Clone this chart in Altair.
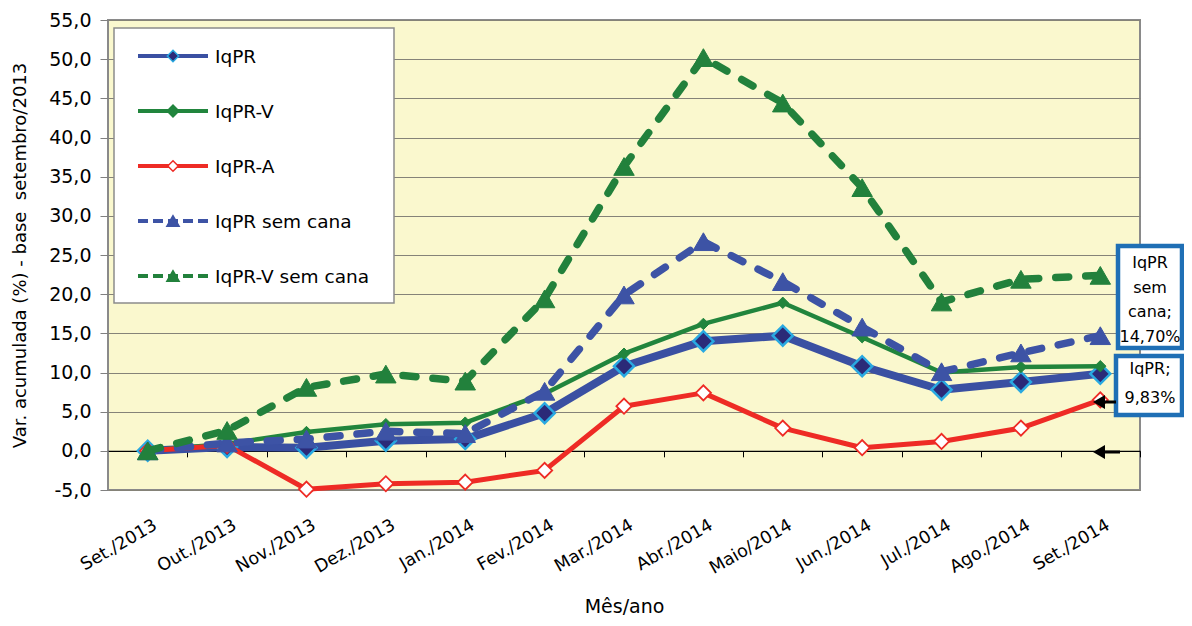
import altair as alt
import pandas as pd

# ---------------- data ----------------
months = ["Set./2013", "Out./2013", "Nov./2013", "Dez./2013", "Jan./2014",
          "Fev./2014", "Mar./2014", "Abr./2014", "Maio/2014", "Jun./2014",
          "Jul./2014", "Ago./2014", "Set./2014"]

iqpr = [0.0, 0.5, 0.4, 1.3, 1.5, 4.8, 10.8, 14.0, 14.7, 10.8, 7.8, 8.8, 9.83]
iqpr_v = [0.0, 0.9, 2.4, 3.4, 3.6, 7.3, 12.4, 16.2, 18.9, 14.5, 10.0, 10.7, 10.8]
iqpr_a = [0.0, 0.7, -4.9, -4.2, -4.0, -2.5, 5.7, 7.4, 2.9, 0.4, 1.2, 2.9, 6.5]
iqpr_sc = [0.0, 1.0, 1.5, 2.5, 2.2, 7.6, 19.9, 26.7, 21.6, 15.8, 10.1, 12.5, 14.70]
iqpr_v_sc = [0.0, 2.6, 8.1, 9.8, 8.9, 19.4, 36.3, 50.2, 44.4, 33.6, 19.0, 21.9, 22.4]

series_names = ["IqPR", "IqPR-V", "IqPR-A", "IqPR sem cana", "IqPR-V sem cana"]
series_values = [iqpr, iqpr_v, iqpr_a, iqpr_sc, iqpr_v_sc]

y_ticks = [-5, 0, 5, 10, 15, 20, 25, 30, 35, 40, 45, 50, 55]

annot_sc = ["IqPR", "sem", "cana;", "14,70%"]
annot_iqpr = ["IqPR;", "9,83%"]

# ---------------- layout / styles ----------------
FONT = "DejaVu Sans"
W, H = 1032, 470
YMIN, YMAX = -5, 55
step = W / len(months)
zero_px = H * YMAX / (YMAX - YMIN)

styles = {
    "IqPR": dict(color="#3A50A2", width=8, dash=None, shape="diamond", size=400,
                 fill="#2B2A78", stroke="#29A9E1", sw=2.5,
                 lsize=130, lfill="#2B2A78", lstroke="#29A9E1"),
    "IqPR-V": dict(color="#21853D", width=4.5, dash=None, shape="diamond", size=130,
                   fill="#21853D", stroke="#21853D", sw=1,
                   lsize=140, lfill="#21853D", lstroke="#21853D"),
    "IqPR-A": dict(color="#EE2B25", width=5, dash=None, shape="diamond", size=230,
                   fill="#FFFFFF", stroke="#EE2B25", sw=1.8,
                   lsize=110, lfill="#FFFFFF", lstroke="#EE2B25"),
    "IqPR sem cana": dict(color="#3D53A5", width=7.5, dash=[13, 17], shape="triangle-up",
                          size=420, fill="#3D53A5", stroke="#3D53A5", sw=1,
                          lsize=150, lfill="#3D53A5", lstroke="#3D53A5"),
    "IqPR-V sem cana": dict(color="#22813C", width=7.5, dash=[13, 17], shape="triangle-up",
                            size=420, fill="#22813C", stroke="#22813C", sw=1,
                            lsize=150, lfill="#22813C", lstroke="#22813C"),
}

xscale = alt.Scale(type="point", padding=0.5)
yscale = alt.Scale(domain=[YMIN, YMAX], nice=False, zero=False)

x_axis = alt.Axis(
    title="Mês/ano", orient="bottom", offset=zero_px - H,
    domain=True, domainColor="black", domainWidth=1.3,
    ticks=True, tickColor="black", tickSize=6, tickWidth=1, tickOffset=step / 2,
    labelOffset=-step / 2 + 3, labelAngle=330, labelAlign="right", labelBaseline="top",
    labelPadding=59, labelFont=FONT, labelFontSize=17.5, labelColor="black",
    labelOverlap=False, grid=False,
    titleFont=FONT, titleFontSize=19, titleFontWeight="normal", titleColor="black",
    titleX=W / 2, titleY=H - zero_px + 116, titleBaseline="middle", titleAlign="center",
)
y_axis = alt.Axis(
    title="Var. acumulada (%) - base \u00a0setembro/2013", values=y_ticks,
    labelExpr="replace(replace(format(datum.value, '.1f'), '.', ','), '\u2212', '-')",
    labelFont=FONT, labelFontSize=19, labelColor="black", labelPadding=9,
    tickColor="#808080", tickSize=8, domain=False,
    grid=True, gridColor="#858378", gridWidth=1.2,
    titleFont=FONT, titleFontSize=18, titleFontWeight="normal", titleColor="black",
    titleX=-88, titleY=H / 2, titleBaseline="middle", titleAlign="center", titleAngle=270,
)

layers = []
for i, (name, vals) in enumerate(zip(series_names, series_values)):
    st = styles[name]
    df = pd.DataFrame({"mes": months, "valor": vals, "serie": name})
    base = alt.Chart(df).encode(
        x=alt.X("mes:N", sort=months, scale=xscale, axis=x_axis),
        y=alt.Y("valor:Q", scale=yscale, axis=y_axis),
    )
    lkw = dict(color=st["color"], strokeWidth=st["width"], strokeJoin="round")
    if st["dash"]:
        lkw.update(strokeDash=st["dash"], strokeCap="round")
    layers.append(base.mark_line(**lkw))
    layers.append(base.mark_point(shape=st["shape"], size=st["size"], filled=True,
                                  fill=st["fill"], stroke=st["stroke"],
                                  strokeWidth=st["sw"], opacity=1))

one = pd.DataFrame({"k": [0]})

# ---------------- legend ----------------
layers.append(alt.Chart(one).mark_rect(fill="white", stroke="#8C8C8C", strokeWidth=1.5).encode(
    x=alt.value(6), x2=alt.value(286), y=alt.value(8), y2=alt.value(283)))
for i, name in enumerate(series_names):
    st = styles[name]
    yy = 36 + 55 * i
    rkw = dict(color=st["color"], strokeWidth=4)
    if st["dash"]:
        rkw.update(strokeDash=[10, 5])
    layers.append(alt.Chart(one).mark_rule(**rkw).encode(
        x=alt.value(30), x2=alt.value(100), y=alt.value(yy)))
    layers.append(alt.Chart(one).mark_point(
        shape=st["shape"], size=st["lsize"], filled=True, fill=st["lfill"],
        stroke=st["lstroke"], strokeWidth=1.5, opacity=1).encode(
        x=alt.value(65), y=alt.value(yy)))
    layers.append(alt.Chart(one).mark_text(
        align="left", baseline="middle", font=FONT, fontSize=18.5, color="black").encode(
        x=alt.value(107), y=alt.value(yy + 1), text=alt.value(name)))

# ---------------- annotations ----------------
BOX = "#1F6FB5"
layers.append(alt.Chart(one).mark_rect(fill="white", stroke=BOX, strokeWidth=4.5).encode(
    x=alt.value(1010), x2=alt.value(1074), y=alt.value(226), y2=alt.value(328)))
layers.append(alt.Chart(one).mark_rect(fill="white", stroke=BOX, strokeWidth=4.5).encode(
    x=alt.value(1008), x2=alt.value(1074), y=alt.value(336), y2=alt.value(395)))
for j, t in enumerate(annot_sc):
    layers.append(alt.Chart(one).mark_text(
        align="center", baseline="middle", font=FONT, fontSize=16, color="black").encode(
        x=alt.value(1042), y=alt.value(243 + 24.7 * j), text=alt.value(t)))
for j, t in enumerate(annot_iqpr):
    layers.append(alt.Chart(one).mark_text(
        align="center", baseline="middle", font=FONT, fontSize=16, color="black").encode(
        x=alt.value(1042), y=alt.value(349 + 29 * j), text=alt.value(t)))

# arrows
for ay, x_start in [(382, 1008), (432, 1012)]:
    layers.append(alt.Chart(one).mark_rule(color="black", strokeWidth=3).encode(
        x=alt.value(994), x2=alt.value(x_start), y=alt.value(ay)))
    layers.append(alt.Chart(one).mark_point(
        shape="triangle-left", size=190, filled=True, color="black", opacity=1).encode(
        x=alt.value(991), y=alt.value(ay)))

chart = alt.layer(*layers).properties(
    width=W, height=H,
    autosize=alt.AutoSizeParams(type="none"),
    padding={"left": 100, "top": 12, "right": 44, "bottom": 128},
    background="white",
).configure(font=FONT).configure_view(
    fill="#FAF8CE", stroke="#8A8A8A", strokeWidth=2
)

chart.save("out.html", embed_options={"renderer": "svg", "actions": False})
